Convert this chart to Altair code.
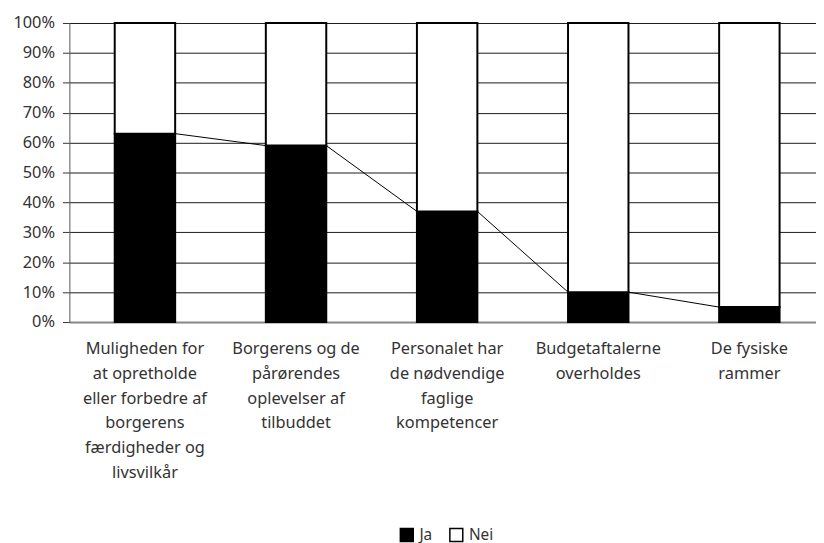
import altair as alt
import pandas as pd

categories = [
    "Muligheden for at opretholde eller forbedre af borgerens færdigheder og livsvilkår",
    "Borgerens og de pårørendes oplevelser af tilbuddet",
    "Personalet har de nødvendige faglige kompetencer",
    "Budgetaftalerne overholdes",
    "De fysiske rammer",
]
label_lines = [
    ["Muligheden for", "at opretholde", "eller forbedre af", "borgerens", "færdigheder og", "livsvilkår"],
    ["Borgerens og de", "pårørendes", "oplevelser af", "tilbuddet"],
    ["Personalet har", "de nødvendige", "faglige", "kompetencer"],
    ["Budgetaftalerne", "overholdes"],
    ["De fysiske", "rammer"],
]
ja = [0.63, 0.59, 0.37, 0.10, 0.05]
nei = [0.37, 0.41, 0.63, 0.90, 0.95]
series = ["Ja", "Nei"]
y_ticks = [0.0, 0.1, 0.2, 0.3, 0.4, 0.5, 0.6, 0.7, 0.8, 0.9, 1.0]

rows = []
for i, c in enumerate(categories):
    rows.append({"cat": c, "serie": "Ja", "v": ja[i], "o": 0})
    rows.append({"cat": c, "serie": "Nei", "v": nei[i], "o": 1})
df = pd.DataFrame(rows)

lines = pd.DataFrame({
    "c1": categories[:-1],
    "c2": categories[1:],
    "y1": ja[:-1],
    "y2": ja[1:],
})

label_map = {c: "|".join(l) for c, l in zip(categories, label_lines)}
expr_parts = " : ".join(
    [f"datum.label == '{c}' ? split('{label_map[c]}', '|')" for c in categories]
) + " : datum.label"

FONT = "Noto Sans"

x_scale = alt.Scale(domain=categories, range=[0, 763], paddingInner=0.6, paddingOuter=0.3)
y_scale = alt.Scale(domain=[0, 1])

x_axis = alt.Axis(labelExpr=expr_parts, labelAngle=0, ticks=False, grid=False,
                  labelPadding=19, labelBaseline="top", labelLineHeight=25,
                  labelFontSize=16.5, labelFont=FONT, labelColor="#333333",
                  domainColor="#888888", domainWidth=2, labelLimit=200)
y_axis = alt.Axis(format=".0%", values=y_ticks, labelOverlap=False, grid=True,
                  tickSize=7, tickColor="#333333", labelPadding=8,
                  labelFontSize=16.5, labelFont=FONT, labelColor="#333333",
                  domainColor="#555555", gridColor="#1a1a1a", gridWidth=1)

bars = alt.Chart(df).mark_bar(stroke="black", strokeWidth=2).encode(
    x=alt.X("cat:N", scale=x_scale, sort=categories, title=None, axis=x_axis),
    y=alt.Y("v:Q", stack="zero", scale=y_scale, title=None, axis=y_axis),
    fill=alt.Fill("serie:N", scale=alt.Scale(domain=series, range=["black", "white"]),
                  legend=alt.Legend(title=None, orient="none", direction="horizontal",
                                    legendX=333, legendY=509, symbolType="square",
                                    symbolSize=170, symbolStrokeColor="black",
                                    symbolStrokeWidth=1.5, labelFontSize=15.5,
                                    labelFont=FONT, labelColor="#333333",
                                    labelOffset=5, columnPadding=14)),
    order=alt.Order("o:Q"),
)

rules = alt.Chart(lines).mark_rule(color="black", strokeWidth=1).encode(
    x=alt.X("c1:N", scale=x_scale, sort=categories, bandPosition=1, title=None, axis=x_axis),
    x2=alt.X2("c2:N", bandPosition=0),
    y=alt.Y("y1:Q", scale=y_scale, title=None, axis=y_axis),
    y2="y2:Q",
)

chart = alt.layer(bars, rules).properties(
    width=754, height=302,
    autosize=alt.AutoSizeParams(type="none"),
    padding={"left": 62, "top": 12.5, "right": 0, "bottom": 220},
).configure_view(stroke=None)

chart.save("out.html", embed_options={"renderer": "svg", "actions": False})
